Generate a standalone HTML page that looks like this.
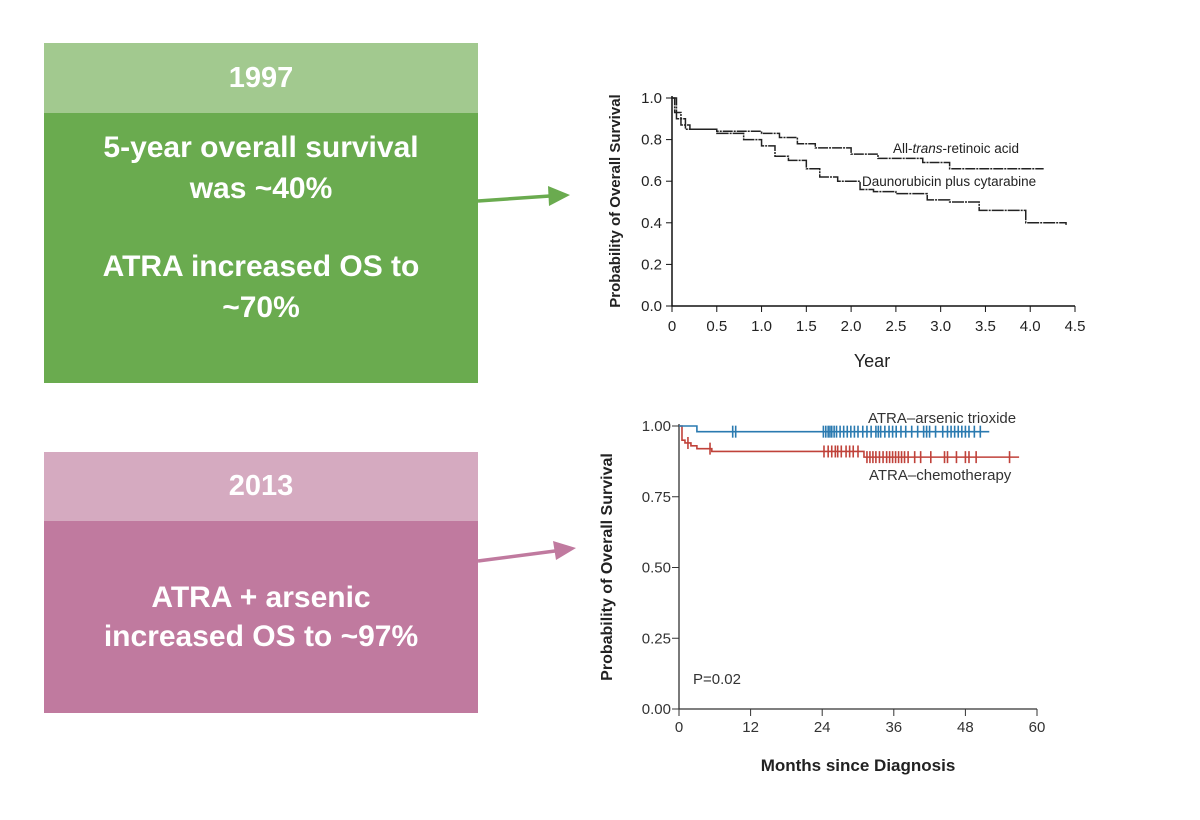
<!DOCTYPE html>
<html><head><meta charset="utf-8"><style>
body{margin:0;width:1200px;height:820px;background:#fff;overflow:hidden;font-family:"Liberation Sans",Arial,sans-serif}
.box{position:absolute;left:44px;width:434px;color:#fff;font-weight:bold;text-align:center}
</style></head><body>
<div class="box" style="top:43px;height:70px;background:#a2c98f;font-size:29px;line-height:70px">1997</div>
<div class="box" style="top:113px;height:270px;background:#6aab4f;font-size:30px;line-height:41px;padding-top:14px;box-sizing:border-box">5-year overall survival<br>was ~40%<br><div style="height:37px"></div>ATRA increased OS to<br>~70%</div>
<div class="box" style="top:452px;height:69px;background:#d5aac0;font-size:29px;line-height:69px">2013</div>
<div class="box" style="top:521px;height:192px;background:#c07a9f;font-size:30px;line-height:39px;padding-top:57px;box-sizing:border-box">ATRA + arsenic<br>increased OS to ~97%</div>
<svg width="1200" height="820" style="position:absolute;left:0;top:0" id="svg" font-family="Liberation Sans, Arial, sans-serif">
<g><line x1="478" y1="201" x2="550" y2="196" stroke="#6aab4f" stroke-width="3.5"/><polygon points="570,195 548,186 549,206" fill="#6aab4f"/></g>
<g><line x1="478" y1="561" x2="555" y2="551" stroke="#c07a9f" stroke-width="3.5"/><polygon points="576,548 553,541 556,560" fill="#c07a9f"/></g>
<g id="c1"></g>
<g id="c2"></g>
</svg>
<script>
// Chart 1 data (1997)
const c1XTicks=[0,0.5,1.0,1.5,2.0,2.5,3.0,3.5,4.0,4.5];
const c1XLabels=["0","0.5","1.0","1.5","2.0","2.5","3.0","3.5","4.0","4.5"];
const c1YTicks=[0,0.2,0.4,0.6,0.8,1.0];
const c1YLabels=["0.0","0.2","0.4","0.6","0.8","1.0"];
const atraT=[0,0.03,0.1,0.2,0.5,1.0,1.2,1.4,1.6,2.0,2.3,2.8,3.1,3.5,4.0,4.15];
const atraS=[1,0.93,0.87,0.85,0.84,0.83,0.81,0.78,0.76,0.73,0.71,0.69,0.66,0.66,0.66,0.66];
const daunoT=[0,0.05,0.15,0.5,0.8,1.0,1.15,1.3,1.5,1.65,1.85,2.1,2.25,2.5,2.85,3.1,3.43,3.95,4.4];
const daunoS=[1,0.9,0.85,0.83,0.80,0.77,0.72,0.70,0.66,0.62,0.60,0.56,0.55,0.54,0.51,0.50,0.46,0.40,0.39];
// Chart 2 data (2013)
const c2XTicks=[0,12,24,36,48,60];
const c2YTicks=[0,0.25,0.5,0.75,1.0];
const c2YLabels=["0.00","0.25","0.50","0.75","1.00"];
const atoT=[0,3,52];
const atoS=[1,0.98,0.98];
const chemoT=[0,0.5,1,2,3,5.5,30,31,57];
const chemoS=[1,0.95,0.94,0.93,0.92,0.91,0.91,0.89,0.89];
const atoCens=[9,9.5,24.2,24.6,25,25.3,25.6,26,26.4,27,27.6,28.2,28.8,29.4,30,30.8,31.5,32.2,33,33.4,33.8,34.5,35.2,35.8,36.4,37.2,38,39,40,41,41.5,42,43,44.2,45,45.6,46.2,46.8,47.4,48,48.6,49.5,50.5];
const chemoCens=[1.5,5.2,24.3,25,25.6,26.2,26.6,27.2,28,28.6,29.2,30,31.5,32,32.5,33,33.6,34.2,34.8,35.3,35.8,36.3,36.8,37.3,37.8,38.4,39.5,40.5,42.2,44.5,45,46.5,48,48.6,49.8,55.4];
const NS='http://www.w3.org/2000/svg';
function el(p,t,a,txt){const e=document.createElementNS(NS,t);for(const k in a)e.setAttribute(k,a[k]);if(txt!==undefined)e.textContent=txt;p.appendChild(e);return e;}
function stepPath(T,S,x,y){let d='M'+x(T[0])+','+y(S[0]);for(let i=1;i<T.length;i++){d+='H'+x(T[i])+'V'+y(S[i]);}return d;}
function valAt(T,S,t){let v=S[0];for(let i=0;i<T.length;i++)if(T[i]<=t)v=S[i];return v;}
// chart 1
(function(){const g=document.getElementById('c1');
const x=v=>672+v/4.5*403, y=v=>306-v*208;
el(g,'path',{d:'M672,96V306H1075',fill:'none',stroke:'#111','stroke-width':1.5});
c1XTicks.forEach((t,i)=>{el(g,'line',{x1:x(t),x2:x(t),y1:306,y2:312,stroke:'#111'});
const l=el(g,'text',{x:x(t),y:331,'text-anchor':'middle','font-size':15,fill:'#222'},c1XLabels[i]);

});
c1YTicks.forEach((t,i)=>{el(g,'line',{x1:666,x2:672,y1:y(t),y2:y(t),stroke:'#111'});
const l=el(g,'text',{x:662,y:y(t)+5,'text-anchor':'end','font-size':15,fill:'#222'},c1YLabels[i]);

});
const xt=el(g,'text',{x:872,y:367,'text-anchor':'middle','font-size':18,fill:'#222'},'Year');


const yt=el(g,'text',{transform:'translate(620,201) rotate(-90)','text-anchor':'middle','font-size':15,'font-weight':'bold',fill:'#222'},'Probability of Overall Survival');


const a=el(g,'path',{d:stepPath(atraT,atraS,x,y),fill:'none',stroke:'#222','stroke-width':1.5,'stroke-dasharray':'10 1 2 1'});


const b=el(g,'path',{d:stepPath(daunoT,daunoS,x,y),fill:'none',stroke:'#222','stroke-width':1.5,'stroke-dasharray':'12 1 2 1'});


const l1=el(g,'text',{x:893,y:153,'font-size':13.5,fill:'#222'});
l1.innerHTML='All-<tspan font-style="italic">trans</tspan>-retinoic acid';


const l2=el(g,'text',{x:862,y:186,'font-size':13.5,fill:'#222'},'Daunorubicin plus cytarabine');


})();
// chart 2
(function(){const g=document.getElementById('c2');
const x=v=>679+v/60*358, y=v=>709-v*283;
el(g,'path',{d:'M679,424V709H1037',fill:'none',stroke:'#333','stroke-width':1.3});
c2XTicks.forEach(t=>{el(g,'line',{x1:x(t),x2:x(t),y1:709,y2:716,stroke:'#333'});
const l=el(g,'text',{x:x(t),y:732,'text-anchor':'middle','font-size':15,fill:'#333'},String(t));

});
c2YTicks.forEach((t,i)=>{el(g,'line',{x1:672,x2:679,y1:y(t),y2:y(t),stroke:'#333'});
const l=el(g,'text',{x:671,y:y(t)+5,'text-anchor':'end','font-size':15,fill:'#333'},c2YLabels[i]);

});
const xt=el(g,'text',{x:858,y:771,'text-anchor':'middle','font-size':17,'font-weight':'bold',fill:'#222'},'Months since Diagnosis');


const yt=el(g,'text',{transform:'translate(612,567) rotate(-90)','text-anchor':'middle','font-size':16,'font-weight':'bold',fill:'#222'},'Probability of Overall Survival');


const p=el(g,'text',{x:693,y:684,'font-size':15,fill:'#333'},'P=0.02');


const a=el(g,'path',{d:stepPath(chemoT,chemoS,x,y),fill:'none',stroke:'#c0423a','stroke-width':1.6});


chemoCens.forEach(t=>{const v=y(valAt(chemoT,chemoS,t));const c=el(g,'line',{x1:x(t),x2:x(t),y1:v-6,y2:v+6,stroke:'#c0423a','stroke-width':1.6});

});
const b=el(g,'path',{d:stepPath(atoT,atoS,x,y),fill:'none',stroke:'#2a7ab0','stroke-width':1.6});


atoCens.forEach(t=>{const v=y(valAt(atoT,atoS,t));const c=el(g,'line',{x1:x(t),x2:x(t),y1:v-6,y2:v+6,stroke:'#2a7ab0','stroke-width':1.6});

});
const l1=el(g,'text',{x:868,y:423,'font-size':15,fill:'#333'},'ATRA–arsenic trioxide');


const l2=el(g,'text',{x:869,y:480,'font-size':15,fill:'#333'},'ATRA–chemotherapy');


})();
</script>
</body></html>
